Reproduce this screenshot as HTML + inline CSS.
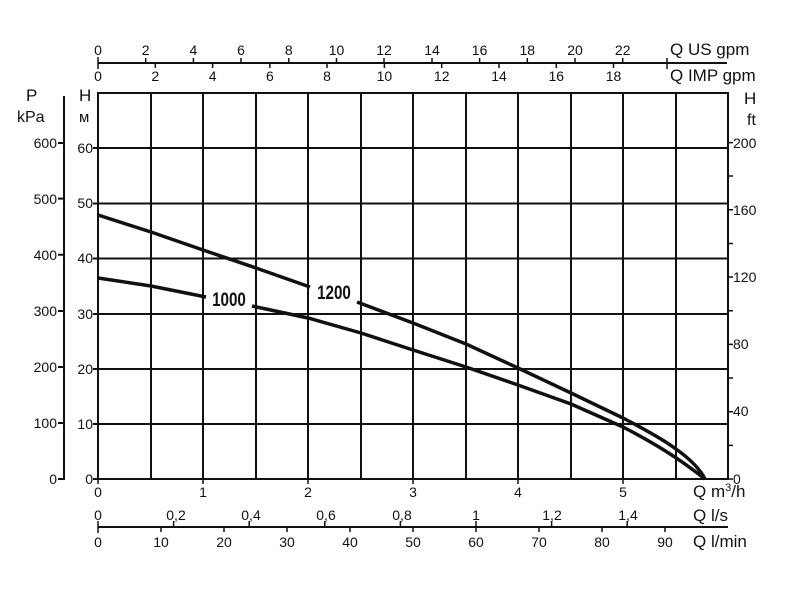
<!DOCTYPE html>
<html><head><meta charset="utf-8"><style>body{margin:0;background:#fff}svg{display:block}</style></head>
<body>
<svg width="800" height="589" viewBox="0 0 800 589" xmlns="http://www.w3.org/2000/svg" font-family="Liberation Sans, Arial, sans-serif" fill="#111">
<g stroke="#111" stroke-width="2" fill="none">
<rect x="98" y="93" width="630" height="386"/>
<path d="M151 93V479M203 93V479M256 93V479M308 93V479M361 93V479M413 93V479M466 93V479M518 93V479M571 93V479M623 93V479M676 93V479"/>
<path d="M98 148H728M98 203.5H728M98 258.5H728M98 314H728M98 369H728M98 424H728"/>
<path d="M98 63H727"/>
<path d="M64 96V479H58M58 143H64M58 198.6H64M58 254.8H64M58 311H64M58 367H64M58 423H64"/>
<path d="M93 148H98M93 203.5H98M93 258.5H98M93 314H98M93 369H98M93 424H98M93 479H98"/>
<path d="M98 527H728"/>
</g>
<g stroke="#111" stroke-width="1.5">
<path d="M98 57V63M145.7 58V63M193.4 58V63M241 58V63M288.8 58V63M336.5 58V63M384 58V63M432 58V63M479.6 58V63M527.3 58V63M575 58V63M622.7 58V63M667 58V69"/>
<path d="M98 63V69M155.3 63V68M212.6 63V68M269.9 63V68M327 63V68M384.4 63V68M441.7 63V68M499 63V68M556.3 63V68M613.5 63V68"/>
<path d="M728 479H733M728 445.4H733M728 411.7H733M728 378H733M728 344.4H733M728 310.8H733M728 277H733M728 243.5H733M728 209.8H733M728 176H733M728 142.6H733"/>
<path d="M98 479V484M203 479V484M308 479V484M413 479V484M518 479V484M623 479V484"/>
<path d="M98 521V533M173.6 521V527M249.2 521V527M324.8 521V527M400.4 521V527M476 521V527M551.6 521V527M627.2 521V527"/>
<path d="M161 527V532M224 527V532M287 527V532M350 527V532M413 527V532M476 527V532M539 527V532M602 527V532M665 527V532"/>
</g>
<g stroke="#111" stroke-width="3.5" fill="none">
<path d="M98 215L151 232L203 250L256 268L310 287"/>
<path d="M357 302L413 323L466 344L518 368L571 393L623 418C648 431 664 440 676 449C690 459 700 469 705 479"/>
<path d="M98 278L151 286L206 297"/>
<path d="M252 306L308 318L361 333L413 350L466 367L518 385L571 404L623 427C650 441 676 456 705 479"/>
</g>
<g font-family="Liberation Sans Narrow, Liberation Sans, sans-serif" font-weight="bold" font-size="19" text-anchor="middle">
<text x="229" y="306" transform="translate(229 306) scale(0.8 1) translate(-229 -306)">1000</text>
<text x="334" y="299" transform="translate(334 299) scale(0.8 1) translate(-334 -299)">1200</text>
</g>
<g font-size="14" text-anchor="middle">
<text x="98" y="55">0</text><text x="145.7" y="55">2</text><text x="193.4" y="55">4</text><text x="241" y="55">6</text><text x="288.8" y="55">8</text><text x="336.5" y="55">10</text><text x="384" y="55">12</text><text x="432" y="55">14</text><text x="479.6" y="55">16</text><text x="527.3" y="55">18</text><text x="575" y="55">20</text><text x="622.7" y="55">22</text>
<text x="98" y="81">0</text><text x="155.3" y="81">2</text><text x="212.6" y="81">4</text><text x="269.9" y="81">6</text><text x="327" y="81">8</text><text x="384.4" y="81">10</text><text x="441.7" y="81">12</text><text x="499" y="81">14</text><text x="556.3" y="81">16</text><text x="613.5" y="81">18</text>
<text x="98" y="497">0</text><text x="203" y="497">1</text><text x="308" y="497">2</text><text x="413" y="497">3</text><text x="518" y="497">4</text><text x="623" y="497">5</text>
<text x="98" y="520">0</text><text x="176" y="520">0,2</text><text x="251" y="520">0,4</text><text x="326" y="520">0,6</text><text x="402" y="520">0,8</text><text x="476" y="520">1</text><text x="552" y="520">1,2</text><text x="628" y="520">1,4</text>
<text x="98" y="547">0</text><text x="161" y="547">10</text><text x="224" y="547">20</text><text x="287" y="547">30</text><text x="350" y="547">40</text><text x="413" y="547">50</text><text x="476" y="547">60</text><text x="539" y="547">70</text><text x="602" y="547">80</text><text x="665" y="547">90</text>
</g>
<g font-size="14" text-anchor="end">
<text x="57" y="148">600</text><text x="57" y="204">500</text><text x="57" y="260">400</text><text x="57" y="316">300</text><text x="57" y="372">200</text><text x="57" y="428">100</text><text x="57" y="484">0</text>
<text x="93" y="153">60</text><text x="93" y="208">50</text><text x="93" y="263">40</text><text x="93" y="319">30</text><text x="93" y="374">20</text><text x="93" y="429">10</text><text x="93" y="484">0</text>
</g>
<g font-size="14">
<text x="733" y="148">200</text><text x="733" y="215">160</text><text x="733" y="282">120</text><text x="733" y="349">80</text><text x="733" y="416">40</text><text x="733" y="484">0</text>
</g>
<g font-size="17">
<text x="670" y="55">Q US gpm</text>
<text x="670" y="81">Q IMP gpm</text>
<text x="693" y="497">Q m<tspan font-size="11" dy="-6">3</tspan><tspan dy="6">/h</tspan></text>
<text x="693" y="521">Q l/s</text>
<text x="693" y="547">Q l/min</text>
<text x="26" y="101">P</text>
<text x="17" y="122" font-size="16">kPa</text>
<text x="79" y="101">H</text>
<text x="79" y="122" font-size="15">м</text>
<text x="744" y="104">H</text>
<text x="747" y="125" font-size="16">ft</text>
</g>
</svg>
</body></html>
